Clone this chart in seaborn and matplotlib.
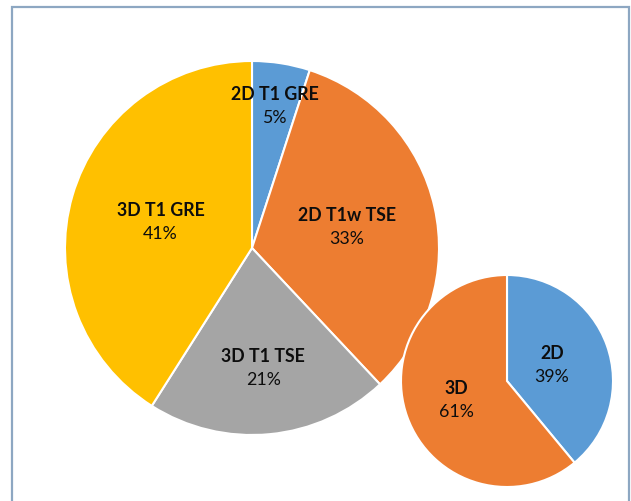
import matplotlib
matplotlib.use("Agg")
import matplotlib.pyplot as plt
import seaborn as sns
import numpy as np
from matplotlib.patches import Rectangle

# Data
big_labels = ["2D T1 GRE", "2D T1w TSE", "3D T1 TSE", "3D T1 GRE"]
big_values = [5, 33, 21, 41]
big_colors = ["#5B9BD5", "#ED7D31", "#A5A5A5", "#FFC000"]
big_label_r = [0.77, 0.52, 0.64, 0.51]

small_labels = ["2D", "3D"]
small_values = [39, 61]
small_colors = ["#5B9BD5", "#ED7D31"]
small_label_r = [0.45, 0.51]

sns.set_theme(style="white")
plt.rcParams['font.family'] = ['Lato', 'DejaVu Sans']

fig = plt.figure(figsize=(6.31, 5.02), dpi=100)
ax = fig.add_axes([0, 0, 1, 1])
ax.set_xlim(0, 631)
ax.set_ylim(0, 502)
ax.set_aspect('equal')
ax.axis('off')

# chart frame
ax.add_patch(Rectangle((11.5, -10), 617.5, 502 - 7.5 + 10, fill=False,
                       edgecolor="#8DA7C2", linewidth=1.6, zorder=0))


def draw_pie(values, labels, colors, center, radius, label_r):
    wedges, _ = ax.pie(values, colors=colors, startangle=90, counterclock=False,
                       center=center, radius=radius, frame=True,
                       wedgeprops=dict(edgecolor="white", linewidth=1.5))
    for w, lab, v, lr in zip(wedges, labels, values, label_r):
        mid = np.deg2rad((w.theta1 + w.theta2) / 2)
        x = center[0] + lr * radius * np.cos(mid)
        y = center[1] + lr * radius * np.sin(mid)
        ax.text(x, y + 12, lab, ha="center", va="center", fontsize=12.8,
                fontweight="bold", color="#0d0d0d")
        ax.text(x, y - 11.5, f"{v}%", ha="center", va="center", fontsize=12.8,
                color="#0d0d0d")


draw_pie(big_values, big_labels, big_colors, (252, 253), 187, big_label_r)
draw_pie(small_values, small_labels, small_colors, (507, 120), 106, small_label_r)

ax.set_xlim(0, 631)
ax.set_ylim(0, 502)
ax.axis('off')

fig.savefig("out.png", dpi=100, facecolor="white")
